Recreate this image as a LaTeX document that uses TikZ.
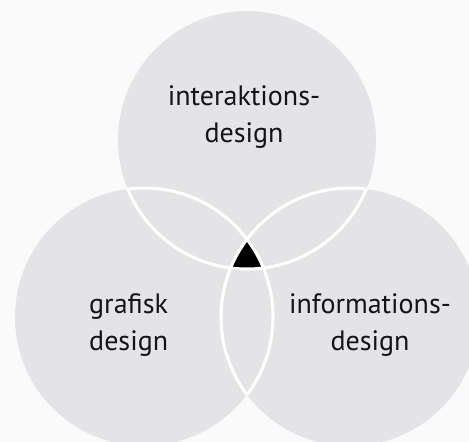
\documentclass[tikz,border=0pt]{standalone}
\usepackage{fontspec}
\setmainfont{PT Sans}
\definecolor{pagebg}{RGB}{250,250,250}
\definecolor{discgray}{RGB}{228,228,231}
\definecolor{ink}{RGB}{20,20,20}
\begin{document}
\begin{tikzpicture}[x=1pt,y=-1pt,
  disc/.style={fill=discgray},
  rim/.style={draw=white,line width=3pt},
  label/.style={inner sep=0pt,font=\fontsize{28}{36.5}\selectfont,text=ink}]
  % canvas
  \fill[pagebg] (0,0) rectangle (469,442);
  \useasboundingbox (0,0) rectangle (469,442);
  \def\rad{129pt}
  % disc centres
  \coordinate (T) at (247,140);
  \coordinate (L) at (144,317);
  \coordinate (R) at (350,317);
  % the three discs
  \foreach \c in {T,L,R} \fill[disc] (\c) circle[radius=\rad];
  % common area of all three discs
  \begin{scope}
    \clip (T) circle[radius=\rad];
    \clip (L) circle[radius=\rad];
    \fill[black] (R) circle[radius=\rad];
  \end{scope}
  % white rims, drawn only where a disc lies over another
  \begin{scope}
    \clip (L) circle[radius=\rad] (R) circle[radius=\rad];
    \draw[rim] (T) circle[radius=\rad];
  \end{scope}
  \begin{scope}
    \clip (T) circle[radius=\rad] (R) circle[radius=\rad];
    \draw[rim] (L) circle[radius=\rad];
  \end{scope}
  \begin{scope}
    \clip (T) circle[radius=\rad] (L) circle[radius=\rad];
    \draw[rim] (R) circle[radius=\rad];
  \end{scope}
  % labels (anchored on the baseline of their last line)
  \node[label,align=center,anchor=base] (interaktion) at (244,142) {interaktions-\\design};
  \node[label,align=left,anchor=base west] (grafisk) at (89,350) {grafisk\\design};
  \node[label,align=center,anchor=base] (information) at (370,350) {informations-\\design};
\end{tikzpicture}
\end{document}
